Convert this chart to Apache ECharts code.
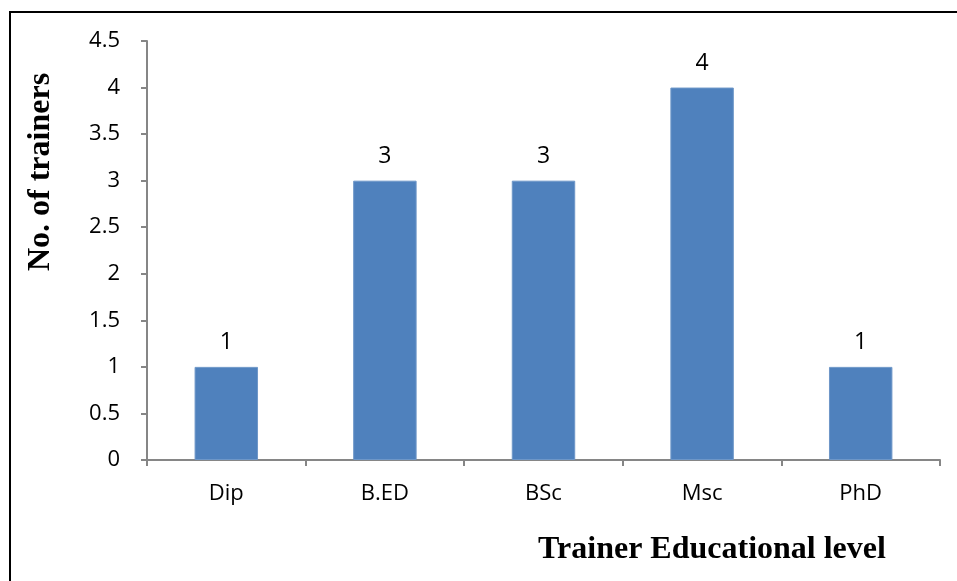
<!DOCTYPE html>
<html><head><meta charset="utf-8">
<script src="https://cdn.jsdelivr.net/npm/echarts@6/dist/echarts.min.js"></script>
<style>html,body{margin:0;padding:0;background:#fff}#c{width:957px;height:581px}</style>
</head><body><div id="c"></div>
<script>
const categories = ["Dip", "B.ED", "BSc", "Msc", "PhD"];
const trainers = [1, 3, 3, 4, 1];
const yTicks = [0, 0.5, 1, 1.5, 2, 2.5, 3, 3.5, 4, 4.5];

const chart = echarts.init(document.getElementById('c'), null, {renderer: 'canvas'});
chart.setOption({
  animation: false,
  backgroundColor: '#fff',
  grid: {left: 147, right: 17, top: 41, bottom: 121, containLabel: false},
  xAxis: {
    type: 'category', data: categories,
    axisLine: {lineStyle: {color: '#868686', width: 2}},
    axisTick: {show: true, length: 6, lineStyle: {color: '#868686', width: 2}},
    axisLabel: {color: '#000', fontSize: 22, fontFamily: 'Open Sans', margin: 23}
  },
  yAxis: {
    type: 'value', min: yTicks[0], max: yTicks[yTicks.length - 1], interval: 0.5,
    axisLine: {show: true, lineStyle: {color: '#868686', width: 2}},
    axisTick: {show: true, length: 6, lineStyle: {color: '#868686', width: 2}},
    splitLine: {show: false},
    axisLabel: {color: '#000', fontSize: 22, fontFamily: 'Open Sans', margin: 27}
  },
  series: [{
    type: 'bar', data: trainers, barWidth: '40%',
    itemStyle: {color: '#4F81BD', borderColor: '#6E97C8', borderWidth: 1},
    label: {show: true, position: 'top', distance: 13, color: '#000', fontSize: 23, fontFamily: 'Open Sans'}
  }],
  graphic: [
    {type: 'rect', shape: {x: 10, y: 12, width: 1000, height: 1000}, style: {fill: 'none', stroke: '#000', lineWidth: 2}, z: 100},
    {type: 'text', x: 41, y: 172, rotation: Math.PI / 2,
      style: {text: 'No. of trainers', font: 'bold 32px "Liberation Serif"', fill: '#000', textAlign: 'center', textVerticalAlign: 'middle'}},
    {type: 'text', x: 712, y: 550,
      style: {text: 'Trainer Educational level', font: 'bold 32px "Liberation Serif"', fill: '#000', textAlign: 'center', textVerticalAlign: 'middle'}}
  ]
});
</script></body></html>
